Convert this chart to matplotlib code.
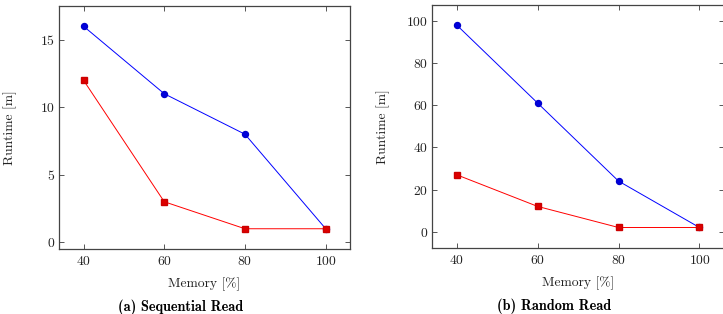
import matplotlib.pyplot as plt
import numpy as np

plt.rcParams['font.family'] = 'serif'
plt.rcParams['font.serif'] = ['cmr10', 'DejaVu Serif']
plt.rcParams['axes.formatter.use_mathtext'] = True

memory = [40, 60, 80, 100]

# sequential read
seq_blue = [16, 11, 8, 1]
seq_red = [12, 3, 1, 1]

# random read
rnd_blue = [98, 61, 24, 2]
rnd_red = [27, 12, 2, 2]

captions = ['(a) Sequential Read', '(b) Random Read']


def style_axes(ax, yticks):
    for s in ax.spines.values():
        s.set_color('#444444')
        s.set_linewidth(0.9)
    ax.tick_params(direction='in', top=True, right=True, length=3.5,
                   width=0.7, color='#555555', labelsize=9.8,
                   labelcolor='#222222')
    ax.tick_params(axis='x', pad=4.5)
    ax.tick_params(axis='y', pad=3)
    ax.set_xticks([40, 60, 80, 100])
    ax.set_yticks(yticks)
    ax.set_xlim(34, 106)
    ax.set_xlabel('Memory [%]', fontsize=9.8, color='#222222')
    ax.set_ylabel('Runtime [m]', fontsize=9.8, color='#222222')
    ax.xaxis.set_label_coords(0.5, -0.119)
    ax.yaxis.set_label_coords(-0.146, 0.5)


fig = plt.figure(figsize=(7.23, 3.14), dpi=100)

ax1 = fig.add_axes([0.082, 0.207, 0.402, 0.774])
ax1.plot(memory, seq_blue, color='#0000ff', lw=0.7, marker='o', ms=4.3,
         mfc='#0000dd', mec='#0000cc')
ax1.plot(memory, seq_red, color='#ff0000', lw=0.7, marker='s', ms=4.3,
         mfc='#dd0000', mec='#cc0000')
style_axes(ax1, [0, 5, 10, 15])
ax1.set_ylim(-0.5, 17.5)

ax2 = fig.add_axes([0.598, 0.211, 0.403, 0.774])
ax2.plot(memory, rnd_blue, color='#0000ff', lw=0.7, marker='o', ms=4.3,
         mfc='#0000dd', mec='#0000cc')
ax2.plot(memory, rnd_red, color='#ff0000', lw=0.7, marker='s', ms=4.3,
         mfc='#dd0000', mec='#cc0000')
style_axes(ax2, [0, 20, 40, 60, 80, 100])
ax2.set_ylim(-7.6, 107.6)

fig.text(0.25, 0.023, captions[0], ha='center', va='center',
         fontfamily='cmb10', fontsize=10.3)
fig.text(0.766, 0.025, captions[1], ha='center', va='center',
         fontfamily='cmb10', fontsize=10.3)

fig.savefig('out.png', dpi=100)
